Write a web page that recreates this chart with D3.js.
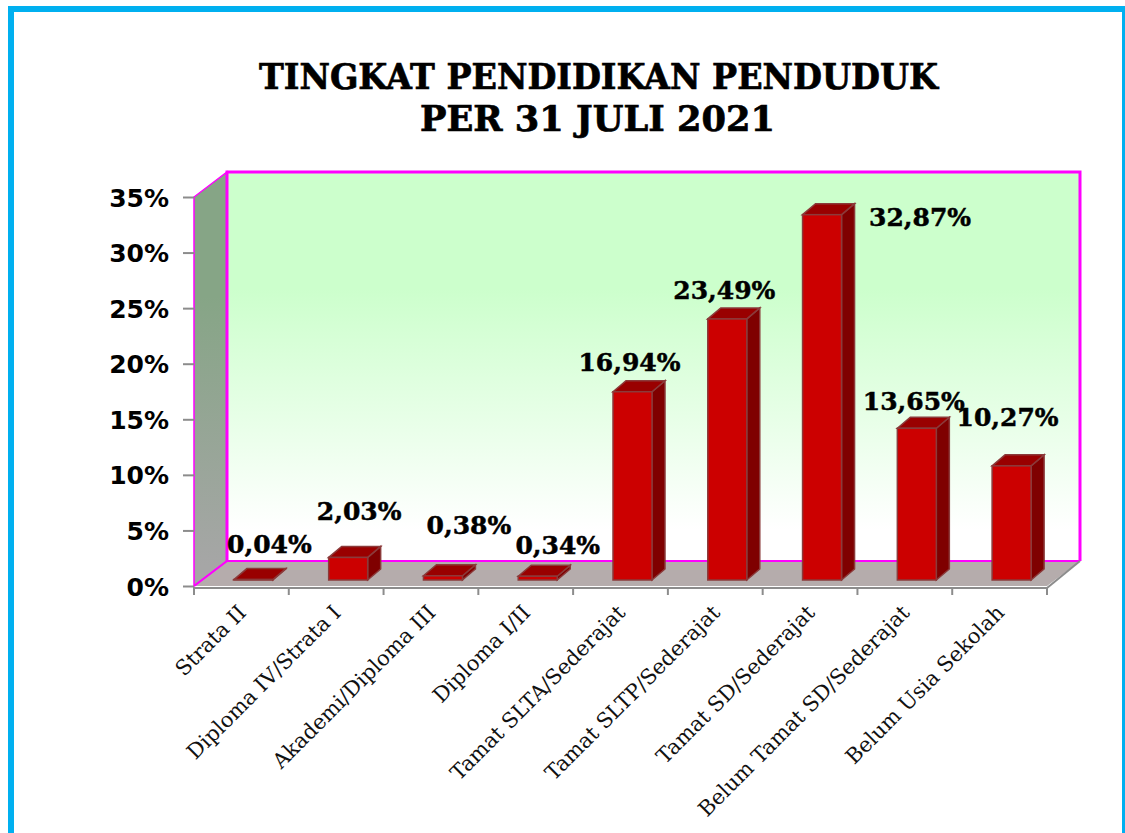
<!DOCTYPE html>
<html lang="en">
<head>
	<meta charset="UTF-8">
	<title>Tingkat Pendidikan Penduduk</title>
	<style>
		html, body { margin: 0; padding: 0; background: #fff; }
		svg { display: block; }
	</style>
</head>
<body>
	<svg id="viz" width="1125" height="833"></svg>

	<script src="https://d3js.org/d3.v7.min.js"></script>
	<script>
		const categories = ["Strata II", "Diploma IV/Strata I", "Akademi/Diploma III", "Diploma I/II",
			"Tamat SLTA/Sederajat", "Tamat SLTP/Sederajat", "Tamat SD/Sederajat",
			"Belum Tamat SD/Sederajat", "Belum Usia Sekolah"];
		const values = [0.04, 2.03, 0.38, 0.34, 16.94, 23.49, 32.87, 13.65, 10.27];
		const valueLabels = ["0,04%", "2,03%", "0,38%", "0,34%", "16,94%", "23,49%", "32,87%", "13,65%", "10,27%"];
		const yTicks = [0, 5, 10, 15, 20, 25, 30, 35];
		const titleLines = ["TINGKAT PENDIDIKAN PENDUDUK", "PER 31 JULI 2021"];
		const titleWidths = [679, 355];

		// label offsets from the top-centre of each bar, the original has them hand placed
		const labelDx = [16, 11, 26, 20, -3, -3, 98, -3, -4];
		const labelDy = [-27, -37, -42, -22, -21, -20, 11, -18, -40];

		const svg = d3.select("#viz");
		const serif = "'DejaVu Serif', serif";

		// outer frame, runs off the right and bottom of the page
		svg.append("rect")
			.attr("x", 11).attr("y", 9)
			.attr("width", 1114).attr("height", 850)
			.attr("fill", "#fff").attr("stroke", "#00b0f0").attr("stroke-width", 6);

		svg.selectAll(".title")
			.data(titleLines)
			.enter().append("text")
			.attr("class", "title")
			.attr("x", (d, i) => i == 0 ? 598.5 : 597.5)
			.attr("y", (d, i) => 89 + i * 42)
			.attr("text-anchor", "middle")
			.attr("textLength", (d, i) => titleWidths[i])
			.attr("lengthAdjust", "spacingAndGlyphs")
			.attr("stroke", "#000").attr("stroke-width", 0.7)
			.style("font-family", serif)
			.style("font-weight", "bold")
			.style("font-size", "35px")
			.text(d => d);

		const x = d3.scaleBand().domain(categories).range([194, 1047]);
		const y = d3.scaleLinear().domain([0, 35]).range([586, 197]);

		// 3d depth of the box and of the bars
		const depthX = 33, depthY = 25;
		const barW = 39, barDx = 13, barDy = 11, barShiftX = 12, barShiftY = -6;

		const defs = svg.append("defs");
		const wall = defs.append("linearGradient").attr("id", "wall")
			.attr("x1", 0).attr("y1", 0).attr("x2", 0).attr("y2", 1);
		wall.append("stop").attr("offset", "0.3").attr("stop-color", "#ccffcc");
		wall.append("stop").attr("offset", "0.92").attr("stop-color", "#ffffff");
		const side = defs.append("linearGradient").attr("id", "side")
			.attr("x1", 0).attr("y1", 0).attr("x2", 0).attr("y2", 1);
		side.append("stop").attr("offset", "0.3").attr("stop-color", "#86a586");
		side.append("stop").attr("offset", "0.95").attr("stop-color", "#a6a6a6");

		const x0 = x.range()[0], x1 = x.range()[1], y0 = y(0), yTop = y(35);
		const poly = pts => d3.line()(pts) + "Z";

		// floor
		svg.append("path")
			.attr("d", poly([[x0, y0], [x1, y0], [x1 + depthX, y0 - depthY], [x0 + depthX, y0 - depthY]]))
			.attr("fill", "#b5acac");
		// left wall
		svg.append("path")
			.attr("d", poly([[x0, y0], [x0, yTop], [x0 + depthX, yTop - depthY], [x0 + depthX, y0 - depthY]]))
			.attr("fill", "url(#side)")
			.attr("stroke", "#ff00ff").attr("stroke-width", 1.5);
		// back wall
		svg.append("rect")
			.attr("x", x0 + depthX).attr("y", yTop - depthY)
			.attr("width", x1 - x0).attr("height", y0 - yTop)
			.attr("fill", "url(#wall)");
		svg.append("path")
			.attr("d", d3.line()([[x0 + depthX, y0 - depthY], [x0 + depthX, yTop - depthY], [x1 + depthX, yTop - depthY], [x1 + depthX, y0 - depthY]]))
			.attr("fill", "none").attr("stroke", "#ff00ff").attr("stroke-width", 3);
		svg.append("path")
			.attr("d", d3.line()([[x0, y0], [x0 + depthX, y0 - depthY], [x1 + depthX, y0 - depthY]]))
			.attr("fill", "none").attr("stroke", "#ff00ff").attr("stroke-width", 2);
		// right edge of floor
		svg.append("path")
			.attr("d", d3.line()([[x1, y0 + 2], [x1 + depthX, y0 - depthY]]))
			.attr("fill", "none").attr("stroke", "#8c8c8c").attr("stroke-width", 2);

		// axes
		const axisY = svg.append("g").attr("transform", `translate(${x0},0)`)
			.call(d3.axisLeft(y).tickValues(yTicks).tickFormat(d => d + "%").tickSize(11).tickSizeOuter(0));
		axisY.select(".domain").remove();
		axisY.selectAll("line").attr("stroke", "#8c8c8c").attr("stroke-width", 2);
		axisY.selectAll("text")
			.attr("x", -25)
			.attr("dy", "0.36em")
			.attr("fill", "#000")
			.style("font-family", "'DejaVu Sans', sans-serif")
			.style("font-weight", "bold")
			.style("font-size", "25px");

		svg.append("line")
			.attr("x1", x0 - 1).attr("x2", x1 + 1).attr("y1", y0 + 2).attr("y2", y0 + 2)
			.attr("stroke", "#8c8c8c").attr("stroke-width", 2);
		svg.selectAll(".xtick")
			.data(d3.range(categories.length + 1))
			.enter().append("line")
			.attr("class", "xtick")
			.attr("x1", i => x0 + i * x.step()).attr("x2", i => x0 + i * x.step())
			.attr("y1", y0 + 2).attr("y2", y0 + 9)
			.attr("stroke", "#8c8c8c").attr("stroke-width", 2);

		svg.selectAll(".xlabel")
			.data(categories)
			.enter().append("text")
			.attr("class", "xlabel")
			.attr("text-anchor", "end")
			.attr("transform", d => `translate(${x(d) + x.step() / 2 + 6},${y0 + 28}) rotate(-45)`)
			.style("font-family", serif)
			.style("font-size", "21px")
			.attr("fill", "#111")
			.text(d => d);

		// bars
		const bars = svg.selectAll(".bar")
			.data(categories.map((c, i) => ({ c, v: values[i], label: valueLabels[i], i })))
			.enter().append("g")
			.attr("class", "bar")
			.attr("transform", d => `translate(${x(d.c) + x.step() / 2 + barShiftX - barW / 2},${barShiftY})`);

		const edge = "#8b3a3a";
		bars.append("path") // side
			.attr("d", d => poly([[barW, y(d.v)], [barW + barDx, y(d.v) - barDy], [barW + barDx, y0 - barDy], [barW, y0]]))
			.attr("fill", "#7f0000").attr("stroke", edge).attr("stroke-width", 1.5);
		bars.append("path") // top
			.attr("d", d => poly([[0, y(d.v)], [barDx, y(d.v) - barDy], [barW + barDx, y(d.v) - barDy], [barW, y(d.v)]]))
			.attr("fill", "#990000").attr("stroke", edge).attr("stroke-width", 1.5);
		bars.append("rect") // front
			.attr("x", 0).attr("y", d => y(d.v))
			.attr("width", barW).attr("height", d => y0 - y(d.v))
			.attr("fill", "#cc0000").attr("stroke", edge).attr("stroke-width", 1.5);

		svg.selectAll(".value")
			.data(categories.map((c, i) => ({ c, v: values[i], label: valueLabels[i], i })))
			.enter().append("text")
			.attr("class", "value")
			.attr("x", d => x(d.c) + x.step() / 2 + barShiftX + labelDx[d.i])
			.attr("y", d => y(d.v) + barShiftY + labelDy[d.i])
			.attr("text-anchor", "middle")
			.attr("stroke", "#000").attr("stroke-width", 0.5)
			.style("font-family", serif)
			.style("font-weight", "bold")
			.style("font-size", "25px")
			.text(d => d.label);
	</script>
</body>
</html>
